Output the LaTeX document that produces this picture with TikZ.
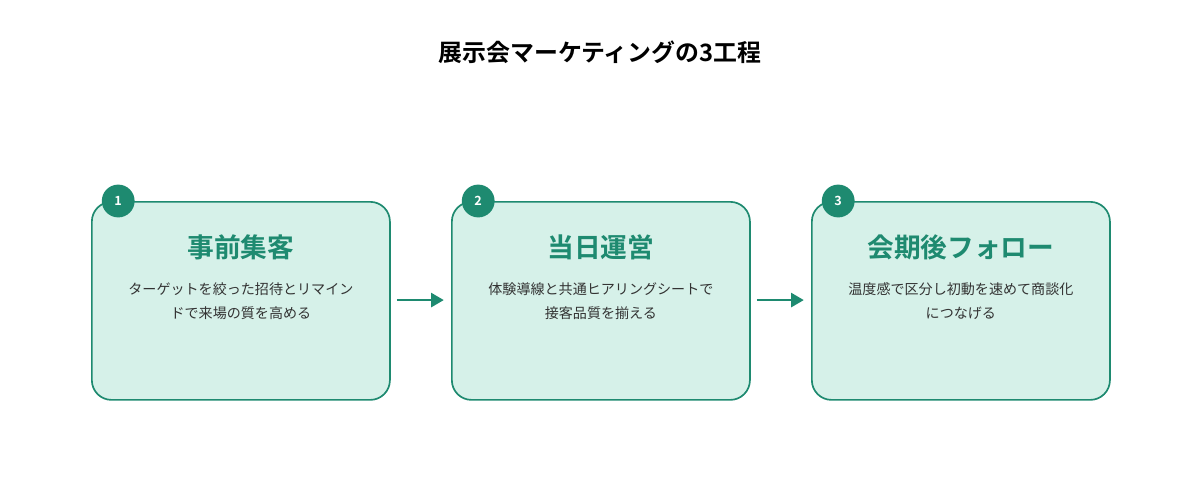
\documentclass[tikz,border=0pt]{standalone}
\usepackage{fontspec}
\setmainfont{Noto Sans CJK JP}
\newfontfamily\cjkbold{Noto Sans CJK JP Bold}
\usetikzlibrary{positioning,arrows.meta}
\definecolor{teal}{HTML}{1E8A70}
\definecolor{mint}{HTML}{D6F1E9}
\definecolor{ink}{HTML}{333333}
\tikzset{
  stage/.style = {draw=teal, fill=mint, line width=1.2pt, rounded corners=14pt,
    minimum width=7.45cm, minimum height=4.95cm, anchor=north west},
  badge/.style = {circle, fill=teal, text=white, minimum size=0.82cm, inner sep=0pt,
    font=\cjkbold\fontsize{9}{9}\selectfont},
  head/.style = {text=teal, font=\cjkbold\fontsize{19}{19}\selectfont},
  body/.style = {text=ink, align=center, font=\fontsize{10}{17}\selectfont},
  flow/.style = {draw=teal, line width=1.6pt, -{Triangle[length=9pt,width=10pt]}}
}
\begin{document}
\begin{tikzpicture}[x=0.025cm,y=-0.025cm]
  \useasboundingbox (0,0) rectangle (1200,500);
  \node[font=\cjkbold\fontsize{17}{17}\selectfont] (title) at (600,52) {展示会マーケティングの3工程};
  % stages
  \node[stage] (s1) at (91,201) {};
  \node[stage] (s2) at (451,201) {};
  \node[stage] (s3) at (811,201) {};
  \foreach \s/\n/\h/\t in {s1/1/事前集客/{ターゲットを絞った招待とリマイン\\ドで来場の質を高める},
      s2/2/当日運営/{体験導線と共通ヒアリングシートで\\接客品質を揃える},
      s3/3/会期後フォロー/{温度感で区分し初動を速めて商談化\\につなげる}} {
    \node[badge] (\s b) at ([xshift=0.68cm]\s.north west) {\n};
    \node[head] (\s h) at ([yshift=-1.17cm]\s.north) {\h};
    \node[body] (\s t) at ([yshift=-2.5cm]\s.north) {\t};
  }
  % arrows
  \coordinate (a1) at ([xshift=0.15cm,yshift=0.02cm]s1.east);
  \coordinate (a2) at ([xshift=-0.18cm,yshift=0.02cm]s2.west);
  \coordinate (b1) at ([xshift=0.15cm,yshift=0.02cm]s2.east);
  \coordinate (b2) at ([xshift=-0.18cm,yshift=0.02cm]s3.west);
  \draw[flow] (a1) -- (a2);
  \draw[flow] (b1) -- (b2);
\end{tikzpicture}
\end{document}
